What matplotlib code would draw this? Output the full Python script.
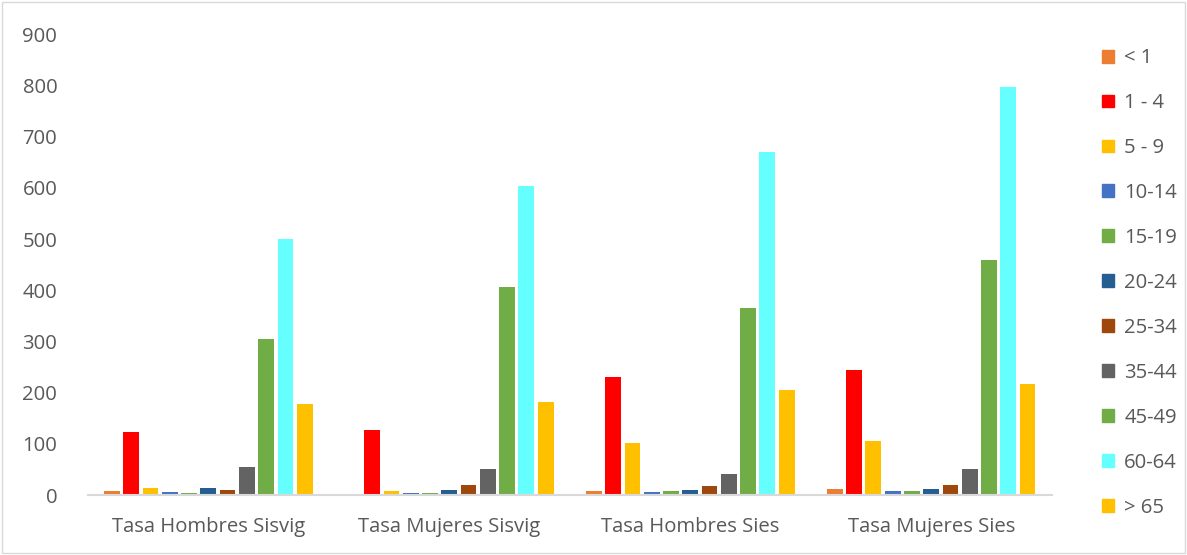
import numpy as np
import matplotlib.pyplot as plt
from matplotlib.patches import Rectangle, Patch

plt.rcParams['font.family'] = ['Open Sans', 'DejaVu Sans']

# Datos
grupos = ['Tasa Hombres Sisvig', 'Tasa Mujeres Sisvig', 'Tasa Hombres Sies', 'Tasa Mujeres Sies']
edades = ['< 1', '1 - 4', '5 - 9', '10-14', '15-19', '20-24', '25-34', '35-44', '45-49', '60-64', '> 65']
colores = ['#ED7D31', '#FF0000', '#FFC000', '#4472C4', '#70AD47', '#255E91',
           '#9E480E', '#636363', '#70AD47', '#66FFFF', '#FFC000']

# valores por grupo de edad (un valor por grupo)
menor_1 = [8, 0, 8, 12]
de_1_4 = [123, 128, 230, 244]
de_5_9 = [13, 8, 102, 106]
de_10_14 = [6, 5, 6, 7]
de_15_19 = [4, 4, 7, 8]
de_20_24 = [13, 10, 10, 11]
de_25_34 = [10, 19, 17, 19]
de_35_44 = [55, 50, 42, 50]
de_45_49 = [305, 406, 365, 459]
de_60_64 = [500, 603, 670, 797]
mayor_65 = [178, 181, 206, 217]

series = [menor_1, de_1_4, de_5_9, de_10_14, de_15_19, de_20_24,
          de_25_34, de_35_44, de_45_49, de_60_64, mayor_65]

fig = plt.figure(figsize=(11.87, 5.55), dpi=100)
ax = fig.add_axes([0.074, 0.108, 0.812, 0.830])

x = np.arange(len(grupos))
n = len(series)
slot = 0.88 / n
for i, vals in enumerate(series):
    pos = x - 0.44 + slot * (i + 0.5)
    ax.bar(pos, vals, width=slot * 0.82, color=colores[i], zorder=2)

ax.set_xlim(-0.5, len(grupos) - 0.5)
ax.set_ylim(0, 900)
ax.set_yticks(np.arange(0, 901, 100))
ax.set_xticks(x)
ax.set_xticklabels(grupos)
ax.tick_params(axis='both', length=0, labelsize=14.6, labelcolor='#595959')
ax.tick_params(axis='y', pad=22)
ax.tick_params(axis='x', pad=16)
for s in ['top', 'right', 'left']:
    ax.spines[s].set_visible(False)
ax.spines['bottom'].set_color('#d9d9d9')
ax.spines['bottom'].set_linewidth(1.5)

handles = [Patch(color=c) for c in colores]
leg = fig.legend(handles, edades, loc='upper left', bbox_to_anchor=(0.913, 0.946),
                 frameon=False, fontsize=14.6, handlelength=0.6, handleheight=0.6,
                 handletextpad=0.5, labelspacing=1.23)
for t in leg.get_texts():
    t.set_color('#595959')

fig.patches.append(Rectangle((0.002, 0.003), 0.996, 0.994, transform=fig.transFigure,
                             fill=False, edgecolor='#d9d9d9', linewidth=1))

fig.savefig('out.png', dpi=100)
